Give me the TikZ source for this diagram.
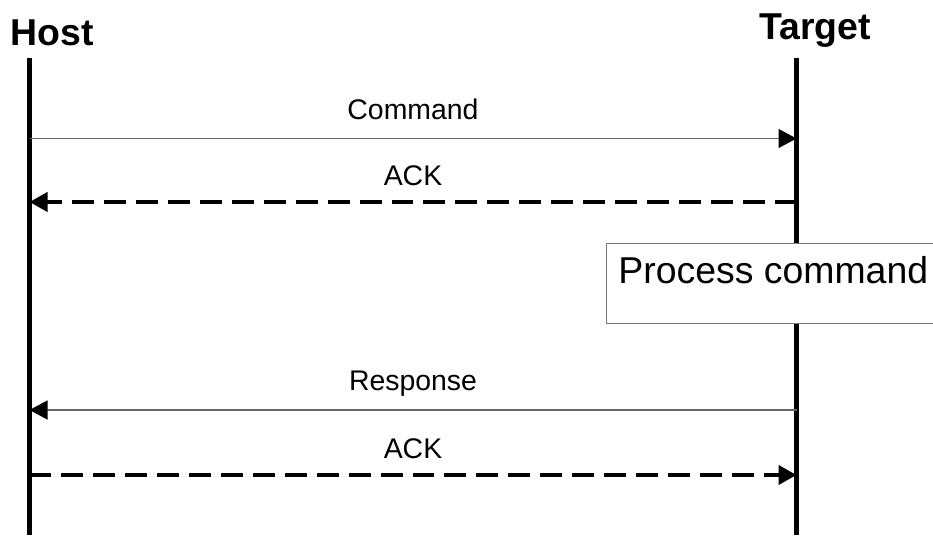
\documentclass[tikz,border=0pt]{standalone}
\usepackage{fontspec}
\setmainfont{Liberation Sans}
\usepackage{xcolor}
\usetikzlibrary{arrows.meta,positioning}
\definecolor{msggray}{RGB}{105,105,105}
\definecolor{boxgray}{RGB}{120,120,120}
\tikzset{
  lifeline/.style={line width=3.1pt},
  actor/.style={font=\fontsize{26.6}{30}\selectfont\bfseries,inner sep=0pt,anchor=base},
  msglabel/.style={font=\fontsize{20.2}{24}\selectfont,inner sep=0pt,text depth=0pt},
  tip/.style={-{Triangle[length=12.8pt,width=13.5pt,color=black]}},
  callmsg/.style={tip,draw=msggray,line width=0.9pt},
  ackmsg/.style={tip,line width=2.8pt,dash pattern=on 15.6pt off 7.1pt},
  taskbox/.style={draw=boxgray,fill=white,line width=0.7pt,anchor=north west,
    font=\fontsize{26.6}{30}\selectfont,inner xsep=8.5pt,inner ysep=0pt,
    minimum height=57pt,text height=0.75em,text depth=0.71em}
}

\begin{document}
\begin{tikzpicture}[x=0.025cm,y=-0.025cm]
\useasboundingbox (0,0) rectangle (933,535);
% actors
\node[actor] (host) at (52,45) {Host};
\node[actor] (target) at (815,39) {Target};
\coordinate (host top) at (29.5,58);
\coordinate (host end) at (29.5,535);
\coordinate (target top) at (796.5,58);
\coordinate (target end) at (796.5,535);
\draw[lifeline] (host top) -- (host end);
\draw[lifeline] (target top) -- (target end);
% message points
\coordinate (h cmd) at (29.5,138.5);  \coordinate (t cmd) at (796.5,138.5);
\coordinate (h ack) at (29.5,202);    \coordinate (t ack) at (796.5,202);
\coordinate (h resp) at (29.5,410);   \coordinate (t resp) at (796.5,410);
\coordinate (h ack2) at (29.5,475);   \coordinate (t ack2) at (796.5,475);
% messages
\draw[callmsg] (h cmd) -- node[msglabel,above=13.3pt] {Command} (t cmd);
\draw[ackmsg] (t ack) -- node[msglabel,above=10pt] {ACK} (h ack);
\draw[callmsg] (t resp) -- node[msglabel,above=13.3pt] {Response} (h resp);
\draw[ackmsg] (h ack2) -- node[msglabel,above=10.5pt] {ACK} (t ack2);
% processing step on the target
\node[taskbox] (process) at (606,243) {Process command};
\end{tikzpicture}
\end{document}
